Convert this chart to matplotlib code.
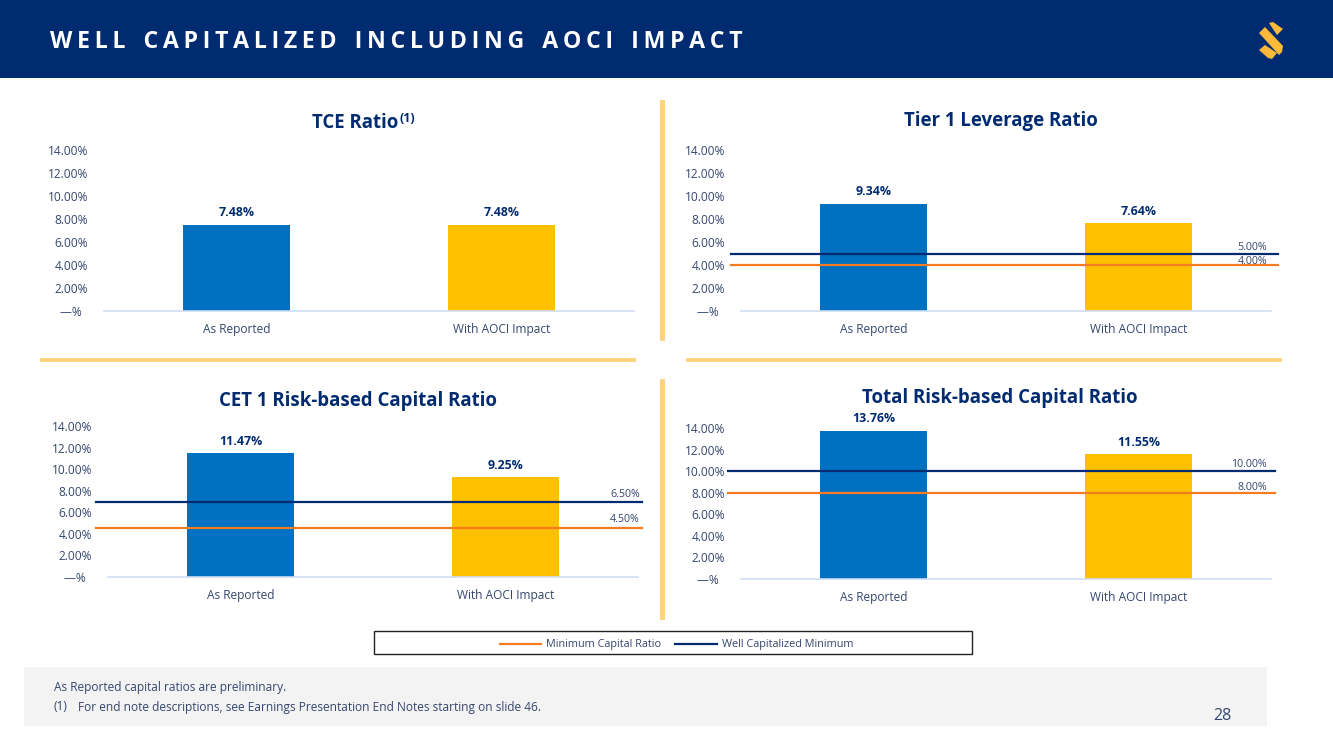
import matplotlib
matplotlib.use("Agg")
import matplotlib.pyplot as plt
from matplotlib.patches import Rectangle, Polygon
from matplotlib.lines import Line2D

plt.rcParams['font.family'] = ['Open Sans', 'DejaVu Sans']

W, H = 1333, 749
NAVY = '#002B70'
TXT = '#34476F'
BLUE = '#0070C0'
GOLD = '#FFC000'
ORANGE = '#F47B20'
PALE = '#FFD27F'
AXC = '#CFDDF2'

categories = ['As Reported', 'With AOCI Impact']
tce = [7.48, 7.48]
tier1 = [9.34, 7.64]
cet1 = [11.47, 9.25]
total = [13.76, 11.55]
yticks = [0, 2, 4, 6, 8, 10, 12, 14]
ytick_labels = ['—%  ', '2.00%', '4.00%', '6.00%', '8.00%', '10.00%', '12.00%', '14.00%']
# line heights as drawn on the chart, with the labels printed beside them
well_lines = [None, 5.0, 6.95, 10.0]
well_labels = [None, '5.00%', '6.50%', '10.00%']
min_lines = [None, 4.0, 4.5, 8.0]
min_labels = [None, '4.00%', '4.50%', '8.00%']
titles = ['TCE Ratio', 'Tier 1 Leverage Ratio', 'CET 1 Risk-based Capital Ratio', 'Total Risk-based Capital Ratio']
series = [tce, tier1, cet1, total]

fig = plt.figure(figsize=(W / 100, H / 100), dpi=100, facecolor='white')

def fx(x): return x / W
def fy(y): return 1 - y / H

bg = fig.add_axes([0, 0, 1, 1], zorder=0)
bg.set_xlim(0, W); bg.set_ylim(H, 0); bg.axis('off')

# header
bg.add_patch(Rectangle((0, 0), W, 78, fc='#002B70', ec='none'))
header = 'WELL CAPITALIZED INCLUDING AOCI IMPACT'
spaced = '\u2009'.join(header).replace('\u2009 \u2009', '   ')
bg.text(50, 42, spaced, color='white', fontsize=16.7, fontweight='bold', va='center', ha='left')
# logo
LOGO = '#FDB93A'
bg.add_patch(Polygon([(1269, 23), (1273, 22), (1283, 29), (1277, 35)], fc=LOGO, ec='none'))
bg.add_patch(Polygon([(1259, 33), (1265, 27), (1283, 46), (1282, 52), (1279, 55)], fc=LOGO, ec='none'))
bg.add_patch(Polygon([(1259, 50), (1265, 45), (1277, 53), (1272, 59), (1268, 58)], fc=LOGO, ec='none'))

# dividers
for (x, y, w, h) in [(660, 100, 5, 241), (660, 379, 5, 241), (40, 358, 596, 4), (686, 358, 596, 4)]:
    bg.add_patch(Rectangle((x, y), w, h, fc=PALE, ec='none'))

# footer
bg.add_patch(Rectangle((24, 667), 1243, 59, fc='#F3F3F3', ec='none'))
bg.text(54, 688, 'As Reported capital ratios are preliminary.', fontsize=8.55, color=TXT, va='center')
bg.text(54, 707, '(1)', fontsize=8.55, color=TXT, va='center')
bg.text(78, 707, 'For end note descriptions, see Earnings Presentation End Notes starting on slide 46.',
        fontsize=8.55, color=TXT, va='center')
bg.text(1222, 716, '28', fontsize=11.5, color=TXT, va='center', ha='center')

# legend box
bg.add_patch(Rectangle((374, 631), 598, 23, fc='white', ec='#222222', lw=1))

# panels: left, baseline, line start, line end, label right edge, title centre, title y
panels = [
    (104, 311, None, None, None, 363, 123),
    (741, 311, 731, 1278, 1267, 1001, 121),
    (108, 577, 96, 642, 640, 358, 401),
    (741, 579, 728, 1275, 1267, 1000, 398),
]
tops = [150, 150, 426, 428]
label_nudge = [(0, 0), (0, -2), (2, 3), (1, 0)]
AX_W = 530

for i, (left, base, lx0, lx1, lr, tcx, ty) in enumerate(panels):
    top = tops[i]
    ax = fig.add_axes([fx(left), fy(base), AX_W / W, (base - top) / H], zorder=2)
    ax.patch.set_alpha(0)
    ax.set_xlim(0, 2)
    ax.set_ylim(0, 14)
    xs = [0.5, 1.5]
    ax.bar(xs, series[i], width=0.403, color=[BLUE, GOLD], zorder=2)
    for x, v in zip(xs, series[i]):
        ax.annotate(f'{v:.2f}%', (x, v), xytext=(0, 4), textcoords='offset points',
                    ha='center', va='bottom', fontsize=8.9, fontweight='bold', color=NAVY, annotation_clip=False)
    for s in ['top', 'left', 'right']:
        ax.spines[s].set_visible(False)
    ax.spines['bottom'].set_color(AXC)
    ax.spines['bottom'].set_linewidth(1.2)
    ax.set_yticks(yticks)
    ax.set_yticklabels(ytick_labels)
    ax.set_xticks(xs)
    ax.set_xticklabels(categories)
    ax.tick_params(axis='y', length=0, pad=11.5, labelsize=8.6, labelcolor=TXT)
    ax.tick_params(axis='x', length=0, pad=9, labelsize=8.6, labelcolor=TXT)
    if well_lines[i] is not None:
        tr = ax.get_yaxis_transform()
        f0, f1 = (lx0 - left) / AX_W, (lx1 - left) / AX_W
        fr = (lr - left) / AX_W
        ax.plot([f0, f1], [well_lines[i]] * 2, color=NAVY, lw=1.6, transform=tr, clip_on=False, zorder=3)
        ax.plot([f0, f1], [min_lines[i]] * 2, color=ORANGE, lw=1.6, transform=tr, clip_on=False, zorder=3)
        nw, nm = label_nudge[i]
        ax.annotate(well_labels[i], (fr, well_lines[i]), xycoords=tr, xytext=(0, nw * 0.72), textcoords='offset points',
                    ha='right', va='bottom', fontsize=7.7, color=TXT, annotation_clip=False)
        ax.annotate(min_labels[i], (fr, min_lines[i]), xycoords=tr, xytext=(0, nm * 0.72), textcoords='offset points',
                    ha='right', va='bottom', fontsize=7.7, color=TXT, annotation_clip=False)
    if i == 0:
        bg.text(355, ty, titles[i], color=NAVY, fontsize=13.4, fontweight='bold', ha='center', va='center')
        bg.text(407, ty - 5, '(1)', color=NAVY, fontsize=9, fontweight='bold', ha='center', va='center')
    else:
        bg.text(tcx, ty, titles[i], color=NAVY, fontsize=13.4, fontweight='bold', ha='center', va='center')

handles = [Line2D([], [], color=ORANGE, lw=1.6), Line2D([], [], color=NAVY, lw=1.6)]
fig.legend(handles, ['Minimum Capital Ratio', 'Well Capitalized Minimum'], ncol=2, frameon=False,
           loc='center', bbox_to_anchor=(fx(676.5), fy(645)), fontsize=7.8, labelcolor=TXT,
           handlelength=3.85, handletextpad=0.45, columnspacing=1.3, borderpad=0)

fig.savefig('out.png', dpi=100)
